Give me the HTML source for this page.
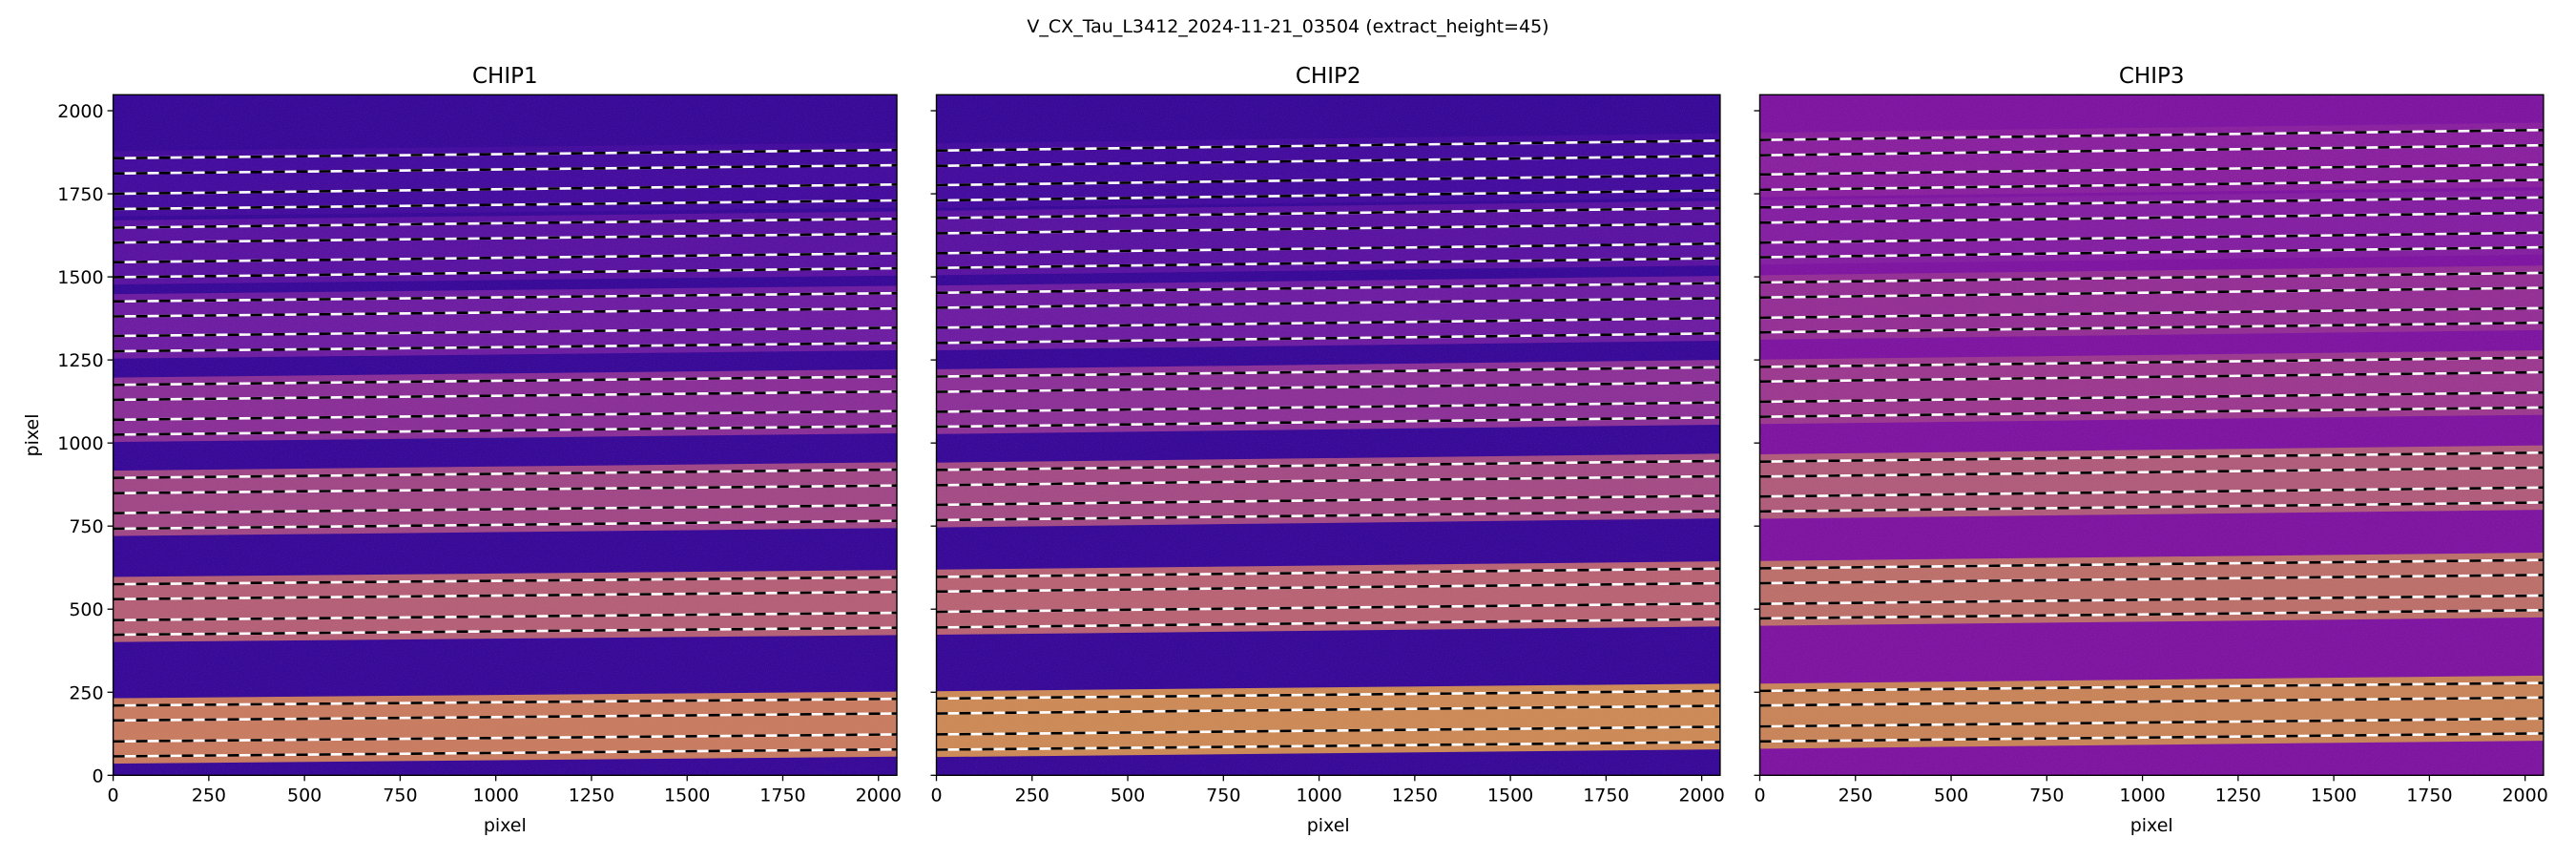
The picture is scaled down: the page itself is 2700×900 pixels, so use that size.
<!DOCTYPE html>
<html><head><meta charset="utf-8"><style>
body{margin:0;background:#fff;}
svg{display:block;font-family:"DejaVu Sans","Liberation Sans",sans-serif;}
</style></head><body>
<svg id="fig" width="2700" height="900" viewBox="0 0 2700 900" xmlns="http://www.w3.org/2000/svg">
<defs>
<filter id="noise" x="0" y="0" width="100%" height="100%">
<feTurbulence type="fractalNoise" baseFrequency="0.9" numOctaves="1" seed="3" result="t"/>
<feColorMatrix type="matrix" values="0 0 0 0 1  0 0 0 0 0.7  0 0 0 0 0.3  0 0 0 -2 1.0"/>
</filter>
</defs>
<text x="1350" y="34" font-size="19" text-anchor="middle">V_CX_Tau_L3412_2024-11-21_03504  (extract_height=45)</text>
</svg>
<script>
const chipNames = ["CHIP1","CHIP2","CHIP3"];
const xTicks = [0,250,500,750,1000,1250,1500,1750,2000];
const yTicks = [0,250,500,750,1000,1250,1500,1750,2000];
const chip1Left = [1857,1811,1750,1704,1648,1603,1544,1499,1426,1381,1322,1276,1175,1130,1070,1025,895,849,789,742,575,530,467,423,210,165,102,57];
const chip1Right = [1882,1836,1778,1730,1675,1630,1571,1526,1451,1405,1347,1301,1200,1155,1096,1051,920,872,813,766,596,552,489,444,230,186,123,78];
const chip2Left = [1880,1834,1776,1730,1677,1631,1571,1527,1452,1407,1347,1301,1200,1154,1094,1049,919,873,814,768,597,553,492,445,231,186,123,77];
const chip2Right = [1910,1864,1806,1760,1707,1660,1600,1556,1481,1436,1376,1330,1228,1182,1122,1077,946,900,841,795,622,578,517,470,254,209,146,100];
const chip3Left = [1912,1866,1808,1762,1709,1663,1603,1559,1483,1438,1377,1333,1229,1185,1124,1079,944,899,839,794,623,578,516,472,254,210,147,102];
const chip3Right = [1942,1896,1838,1792,1739,1693,1633,1589,1512,1467,1406,1362,1257,1213,1152,1107,971,926,866,821,648,603,541,497,278,234,171,126];
const chipBg = ["#380a98","#380a98","#7e16a2"];
const chip1Band = ["#440d9e","#5a14a2","#6e1ea2","#8a3098","#a04888","#b46078","#c87c62"];
const chip2Band = ["#440d9e","#5a14a2","#6e1ea2","#8c3298","#a44c86","#b86476","#cc8a58"];
const chip3Band = ["#8a22a0","#8420a2","#943096","#9c3a90","#b05c7c","#bc706c","#c8845a"];

const lefts=[chip1Left,chip2Left,chip3Left], rights=[chip1Right,chip2Right,chip3Right], bands=[chip1Band,chip2Band,chip3Band];
const NS="http://www.w3.org/2000/svg";
const svg=document.getElementById('fig');
const axL=[118.6,981.5,1844.5], W=821.4, T=99.3, B=812.3, XMAX=2048, YMAX=2048;
function mk(t,a,p){const e=document.createElementNS(NS,t);for(const k in a)e.setAttribute(k,a[k]);(p||svg).appendChild(e);return e;}
chipNames.forEach((name,c)=>{
  const x0=axL[c];
  const sx=v=>x0+v/XMAX*W, sy=v=>B-v/YMAX*(B-T);
  const g=mk('g',{});
  
  
  const bg=mk('rect',{x:x0,y:T,width:W,height:B-T,fill:chipBg[c]},g);
  
  
  const L=lefts[c],R=rights[c];
  for(let k=0;k<7;k++){
    const tl=L[4*k]+22, bl=L[4*k+3]-22, tr=R[4*k]+22, br=R[4*k+3]-22;
    const p=mk('polygon',{points:`${sx(0)},${sy(tl)} ${sx(XMAX)},${sy(tr)} ${sx(XMAX)},${sy(br)} ${sx(0)},${sy(bl)}`,fill:bands[c][k]},g);
    
    
  }
  const nz=mk('rect',{x:x0,y:T,width:W,height:B-T,filter:'url(#noise)',opacity:0.12},g);
  
  
  for(let i=0;i<L.length;i++){
    const a={x1:sx(0),y1:sy(L[i]),x2:sx(XMAX),y2:sy(R[i]),'stroke-width':2.6};
    const w=mk('line',Object.assign({},a,{stroke:'#ffffff'}),g);
    
    
    const b=mk('line',Object.assign({},a,{stroke:'#000000','stroke-dasharray':'12 12'}),g);
    
    
  }
  const fr=mk('rect',{x:x0,y:T,width:W,height:B-T,fill:'none',stroke:'#000','stroke-width':1.4},g);
  
  
  const tt=mk('text',{x:x0+W/2,y:87,'font-size':23,'text-anchor':'middle'},g);
  tt.textContent=name;
  
  
  xTicks.forEach(v=>{
    const tk=mk('line',{x1:sx(v),x2:sx(v),y1:B,y2:B+6,stroke:'#000','stroke-width':1.3},g);
    
    
    const tl=mk('text',{x:sx(v),y:B+27,'font-size':19,'text-anchor':'middle'},g);
    tl.textContent=v;
    
    
  });
  yTicks.forEach(v=>{
    const tk=mk('line',{x1:x0-6,x2:x0,y1:sy(v),y2:sy(v),stroke:'#000','stroke-width':1.3},g);
    
    
    if(c===0){
      const tl=mk('text',{x:x0-10,y:sy(v)+7,'font-size':19,'text-anchor':'end'},g);
      tl.textContent=v;
      
      
    }
  });
  const xl=mk('text',{x:x0+W/2,y:871,'font-size':19,'text-anchor':'middle'},g);
  xl.textContent='pixel';
  
  
  if(c===0){
    const yl=mk('text',{x:40,y:456,'font-size':19,'text-anchor':'middle',transform:'rotate(-90 40 456)'},g);
    yl.textContent='pixel';
    
    
  }
});
</script>
</body></html>
